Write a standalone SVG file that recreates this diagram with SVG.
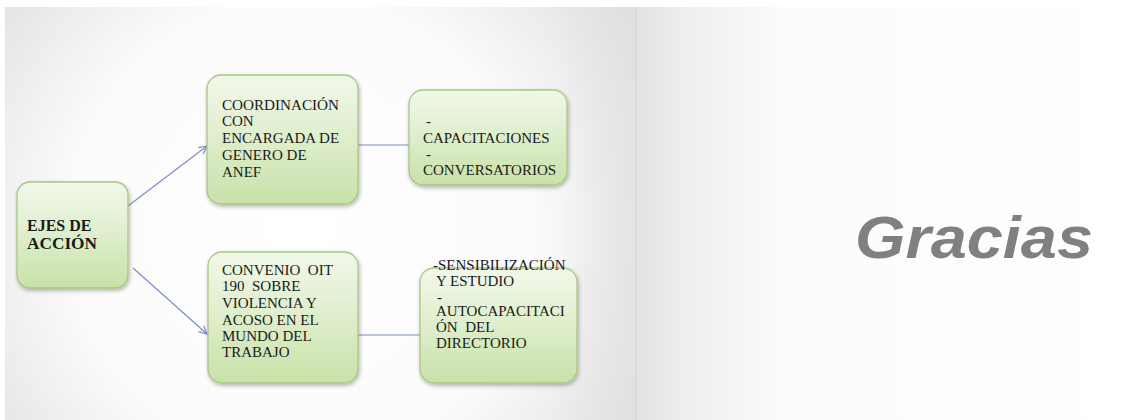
<svg xmlns="http://www.w3.org/2000/svg" width="1134" height="420" viewBox="0 0 1134 420">
<defs>
<radialGradient id="bgL" cx="300" cy="230" r="420" gradientUnits="userSpaceOnUse">
<stop offset="0" stop-color="#ffffff"/>
<stop offset="0.55" stop-color="#fbfbfb"/>
<stop offset="1" stop-color="#dcdcdc"/>
</radialGradient>
<linearGradient id="edgeR" x1="0" y1="0" x2="1" y2="0">
<stop offset="0" stop-color="#e0e0e0" stop-opacity="0"/>
<stop offset="1" stop-color="#e0e0e0" stop-opacity="1"/>
</linearGradient>
<linearGradient id="bgR" x1="636" y1="0" x2="1134" y2="0" gradientUnits="userSpaceOnUse">
<stop offset="0" stop-color="#e3e3e3"/>
<stop offset="0.12" stop-color="#f0f0f0"/>
<stop offset="0.3" stop-color="#fbfbfb"/>
<stop offset="1" stop-color="#ffffff"/>
</linearGradient>
<linearGradient id="node" x1="0" y1="0" x2="0" y2="1">
<stop offset="0" stop-color="#f1f8ea"/>
<stop offset="0.5" stop-color="#deeecb"/>
<stop offset="1" stop-color="#c8e1a8"/>
</linearGradient>
<filter id="sh" x="-10%" y="-10%" width="125%" height="125%">
<feGaussianBlur in="SourceAlpha" stdDeviation="2"/>
<feOffset dx="1" dy="2"/>
<feComponentTransfer><feFuncA type="linear" slope="0.3"/></feComponentTransfer>
<feMerge><feMergeNode/><feMergeNode in="SourceGraphic"/></feMerge>
</filter>
<marker id="arr" markerWidth="12" markerHeight="12" refX="9" refY="5" orient="auto" markerUnits="userSpaceOnUse">
<path d="M1,1 L9,5 L1,9" fill="none" stroke="#7d8ccc" stroke-width="1.2"/>
</marker>
</defs>
<style>
.box{fill:url(#node);stroke:#a9c684;stroke-width:1.3;filter:url(#sh)}
.t{font-family:"Liberation Serif","DejaVu Serif",serif;font-size:15px;fill:#1a1a1a}
.b{font-weight:bold;font-size:16px}
.c{stroke:#7d8ccc;stroke-width:1.2;fill:none}
</style>
<rect width="1134" height="420" fill="#ffffff"/>
<rect x="5" y="7" width="631" height="413" fill="url(#bgL)"/>
<rect x="560" y="7" width="76" height="413" fill="url(#edgeR)" opacity="0.6"/>
<rect x="636" y="7" width="498" height="413" fill="url(#bgR)"/>
<line x1="636" y1="7" x2="636" y2="420" stroke="#d2d2d2" stroke-width="1"/>

<g id="connectors">
<line class="c" x1="128" y1="206" x2="207" y2="146" marker-end="url(#arr)"/>
<line class="c" x1="133" y1="268" x2="207" y2="334" marker-end="url(#arr)"/>
<line class="c" x1="358" y1="145" x2="409" y2="145"/>
<line class="c" x1="358" y1="335" x2="420" y2="335"/>
</g>

<g id="n-ejes">
<rect class="box" x="17" y="182" width="111" height="106" rx="13"/>
<text class="t b" x="27" y="231">EJES DE</text>
<text class="t b" x="27" y="249" textLength="70" lengthAdjust="spacingAndGlyphs">ACCIÓN</text>
</g>

<g id="n-coord">
<rect class="box" x="207" y="75" width="151" height="129" rx="14"/>
<text class="t" x="222" y="110" textLength="117" lengthAdjust="spacingAndGlyphs">COORDINACIÓN</text>
<text class="t" x="222" y="126">CON</text>
<text class="t" x="222" y="143">ENCARGADA DE</text>
<text class="t" x="222" y="160">GENERO DE</text>
<text class="t" x="222" y="177">ANEF</text>
</g>

<g id="n-capac">
<rect class="box" x="409" y="90" width="158" height="95" rx="14"/>
<text class="t" x="426" y="126">-</text>
<text class="t" x="423" y="143">CAPACITACIONES</text>
<text class="t" x="426" y="159">-</text>
<text class="t" x="423" y="175">CONVERSATORIOS</text>
</g>

<g id="n-convenio">
<rect class="box" x="208" y="252" width="150" height="131" rx="14"/>
<text class="t" x="222" y="275" xml:space="preserve">CONVENIO  OIT</text>
<text class="t" x="222" y="291" xml:space="preserve">190  SOBRE</text>
<text class="t" x="222" y="308">VIOLENCIA Y</text>
<text class="t" x="222" y="325">ACOSO EN EL</text>
<text class="t" x="222" y="341">MUNDO DEL</text>
<text class="t" x="222" y="357">TRABAJO</text>
</g>

<g id="n-sensib">
<rect class="box" x="420" y="268" width="157" height="115" rx="14"/>
<text class="t" x="433" y="270">-SENSIBILIZACIÓN</text>
<text class="t" x="436" y="286">Y ESTUDIO</text>
<text class="t" x="437" y="302">-</text>
<text class="t" x="436" y="316">AUTOCAPACITACI</text>
<text class="t" x="436" y="332" xml:space="preserve">ÓN  DEL</text>
<text class="t" x="436" y="348">DIRECTORIO</text>
</g>

<g id="gracias">
<text x="855" y="258" font-family="'Liberation Sans',Arial,sans-serif" font-style="italic" font-weight="bold" font-size="60" fill="#808080" textLength="238" lengthAdjust="spacingAndGlyphs">Gracias</text>
</g>
</svg>
